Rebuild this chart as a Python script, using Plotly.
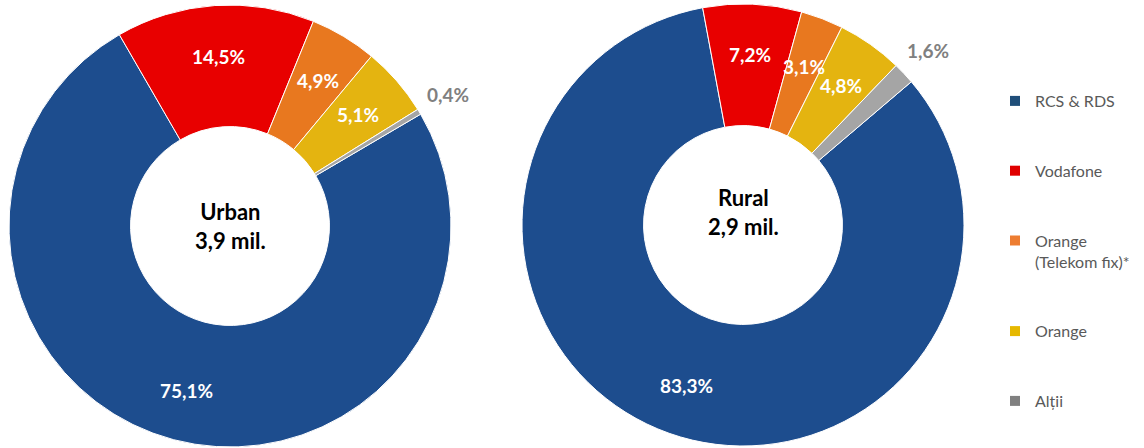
import math
import plotly.graph_objects as go

# ---------------- data ----------------
categories = ["RCS & RDS", "Vodafone", "Orange (Telekom fix)*", "Orange", "Alții"]
legend_names = ["RCS & RDS", "Vodafone", "Orange<br>(Telekom fix)*", "Orange", "Alții"]
urban_values = [75.1, 14.5, 4.9, 5.1, 0.4]
rural_values = [83.3, 7.2, 3.1, 4.8, 1.6]
urban_title = "Urban<br>3,9 mil."
rural_title = "Rural<br>2,9 mil."

# ---------------- style ----------------
W, H = 1144, 448
slice_colors = ["#1D4D8E", "#E80000", "#E8781F", "#E4B410", "#A5A5A5"]
legend_colors = ["#1F4E79", "#E00000", "#ED7D31", "#E6B800", "#808080"]
FONT = "Lato"
HOLE = 0.45
R = 221
# (center x px, center y px, rotation deg, title y offset px)
pies = [
    (urban_values, urban_title, 230, 226, 59.6, 0),
    (rural_values, rural_title, 743, 225, 49.6, -13),
]

fig = go.Figure()
annotations = []


def fmt(v):
    return f"{v:.1f}".replace(".", ",") + "%"


for values, title, cx, cy, rot, tdy in pies:
    fig.add_trace(go.Pie(
        labels=categories,
        values=values,
        hole=HOLE,
        sort=False,
        direction="clockwise",
        rotation=rot,
        marker=dict(colors=slice_colors, line=dict(color="white", width=1)),
        textinfo="none",
        hoverinfo="label+percent",
        showlegend=False,
        domain=dict(x=[(cx - R) / W, (cx + R) / W],
                    y=[1 - (cy + R) / H, 1 - (cy - R) / H]),
    ))
    # value labels, placed at the angular middle of each slice
    total = sum(values)
    start = rot
    for i, v in enumerate(values):
        span = v / total * 360
        mid = math.radians(start + span / 2)
        start += span
        small = v < 2
        r = R * (1.15 if small else 0.77)
        x = cx + r * math.sin(mid)
        y = cy - r * math.cos(mid)
        annotations.append(dict(
            x=x / W, y=1 - y / H, xref="paper", yref="paper",
            text=f"<b>{fmt(v)}</b>", showarrow=False,
            font=dict(family=FONT, size=19, color="#808080" if small else "white"),
            xanchor="center", yanchor="middle",
        ))
    annotations.append(dict(
        x=cx / W, y=1 - (cy + tdy) / H, xref="paper", yref="paper",
        text=f"<b>{title}</b>", showarrow=False,
        font=dict(family=FONT, size=22, color="black"),
        xanchor="center", yanchor="middle",
    ))

# legend entries
for name, col in zip(legend_names, legend_colors):
    fig.add_trace(go.Scatter(
        x=[None], y=[None], mode="markers", name=name, legendgroup=name,
        marker=dict(symbol="square", size=10, color=col),
        hoverinfo="skip",
    ))

fig.update_layout(
    width=W, height=H,
    margin=dict(l=0, r=0, t=0, b=0),
    paper_bgcolor="white", plot_bgcolor="white",
    xaxis=dict(visible=False), yaxis=dict(visible=False),
    annotations=annotations,
    font=dict(family=FONT),
    legend=dict(
        x=995 / W, y=1 - 84 / H, xanchor="left", yanchor="top",
        font=dict(family=FONT, size=16, color="#595959"),
        tracegroupgap=46, valign="top", itemwidth=30,
        bgcolor="rgba(0,0,0,0)",
    ),
    showlegend=True,
)

fig.write_html("out.html", config=dict(displayModeBar=False),
               post_script="document.body.style.margin='0';")
